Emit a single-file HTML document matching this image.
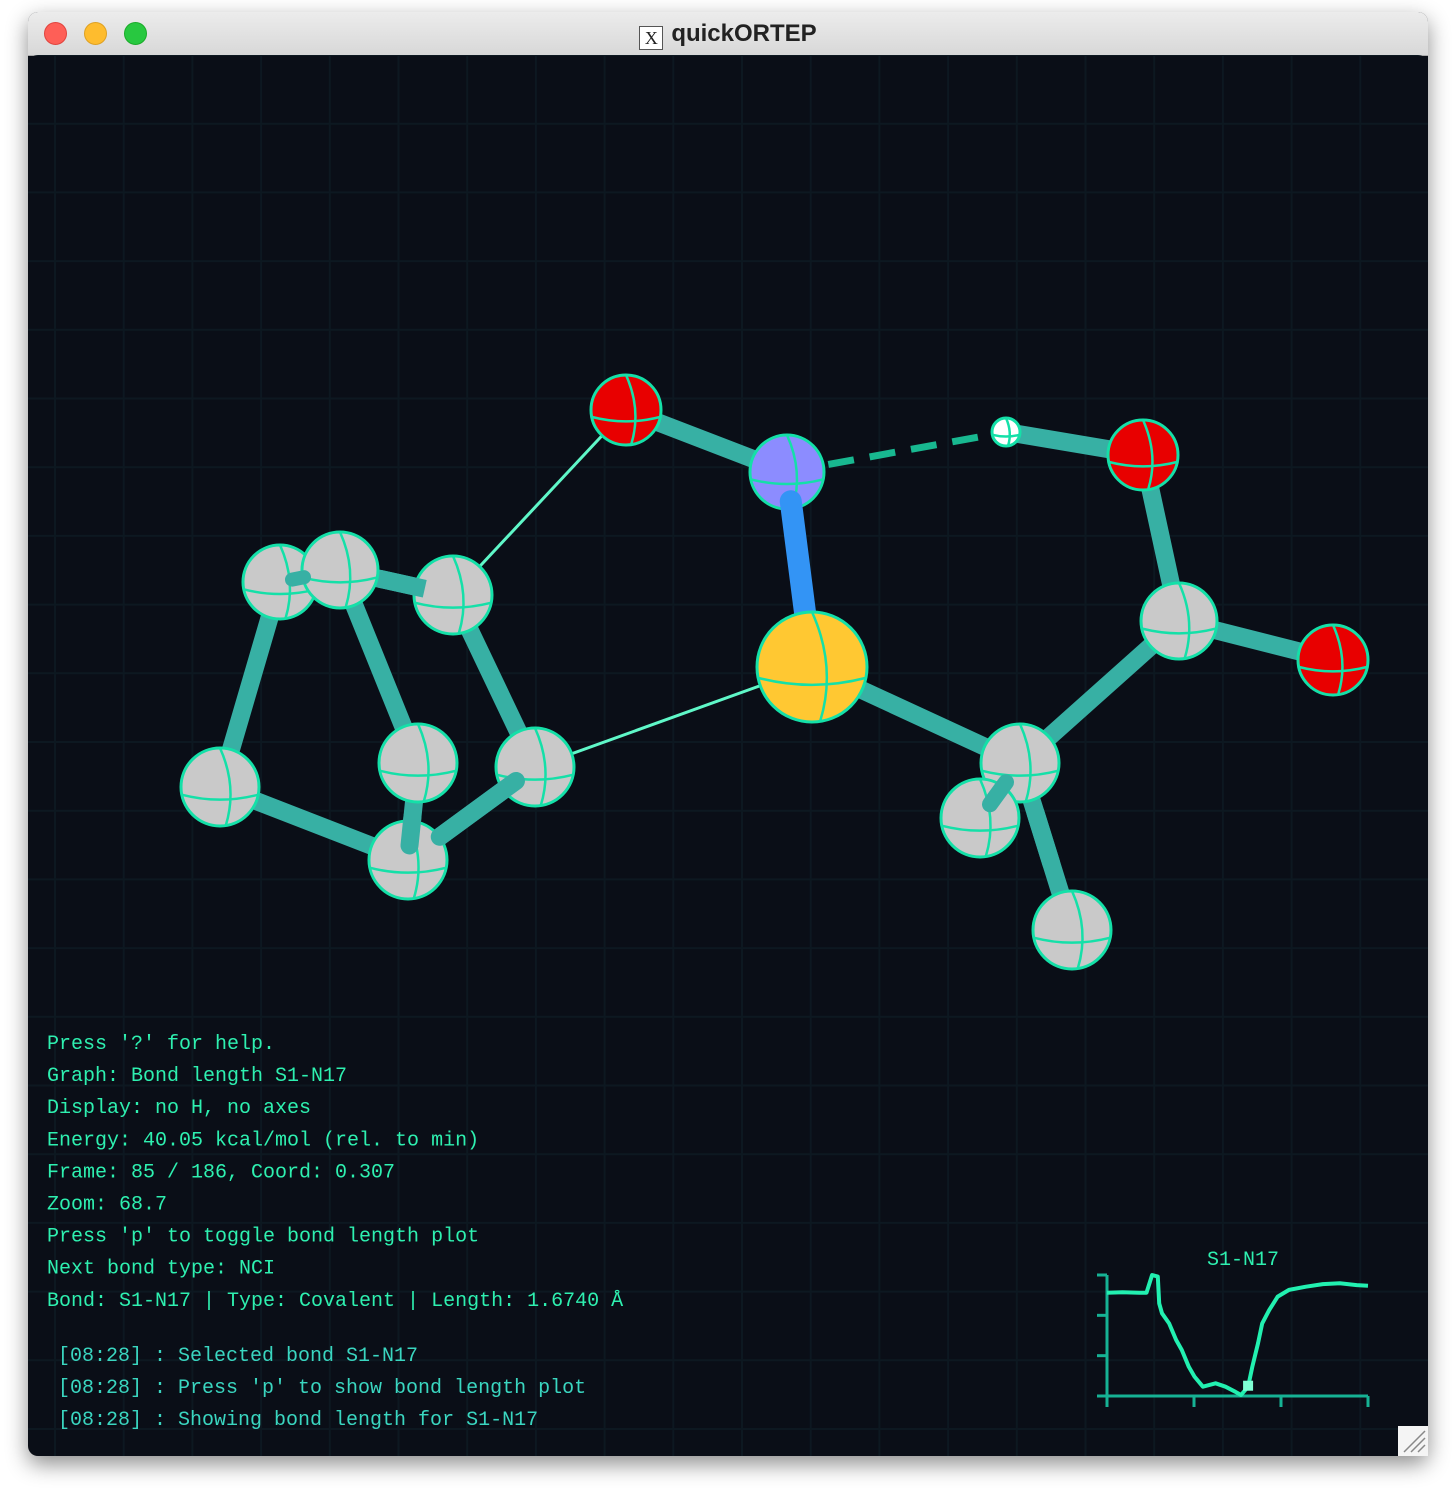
<!DOCTYPE html>
<html><head><meta charset="utf-8">
<style>
html,body{margin:0;padding:0;background:#fff;width:1456px;height:1500px;overflow:hidden;}
#win{position:absolute;left:28px;top:12px;width:1400px;height:1444px;border-radius:10px;overflow:hidden;box-shadow:0 8px 22px rgba(0,0,0,0.45);background:#0a0e17;}
#titlebar{position:absolute;left:0;top:0;width:1400px;height:43px;background:linear-gradient(#ececec,#d8d8d8);border-bottom:1px solid #aaa;}
.tl{position:absolute;top:10px;width:23px;height:23px;border-radius:50%;box-sizing:border-box;}
#title{position:absolute;left:0;width:1400px;top:8px;text-align:center;font:bold 24px "Liberation Sans",sans-serif;color:#222;}
#title span.x{display:inline-block;width:22px;height:22px;border:1px solid #555;background:#fff;font:18px "Liberation Serif",serif;line-height:22px;vertical-align:-3px;margin-right:8px;}
svg{position:absolute;left:0;top:0;}
.info{font-family:"Liberation Mono",monospace;font-size:20px;fill:#2ef0b0;}
.log{font-family:"Liberation Mono",monospace;font-size:20px;fill:#3ad6c0;}
</style></head><body>
<div id="win">
<div id="titlebar">
<div class="tl" style="left:16px;background:#fe5f57;border:1px solid #e0443e"></div>
<div class="tl" style="left:56px;background:#febc2e;border:1px solid #dea123"></div>
<div class="tl" style="left:96px;background:#28c840;border:1px solid #1aab29"></div>
<div id="title"><span class="x">X</span>quickORTEP</div>
</div>
</div>
<svg id="scene" width="1456" height="1500"></svg>
<script>
const NS='http://www.w3.org/2000/svg';
const svg=document.getElementById('scene');
function mk(tag,attrs,parent){const e=document.createElementNS(NS,tag);for(const k in attrs)e.setAttribute(k,attrs[k]);(parent||svg).appendChild(e);return e;}
const defs=mk('defs',{});
const cp=mk('clipPath',{id:'cc'},defs);mk('rect',{x:28,y:55,width:1400,height:1401,rx:10},cp);
const g=mk('g',{'clip-path':'url(#cc)'});
for(let x=55;x<1430;x+=68.7){const l=mk('line',{x1:x,y1:55,x2:x,y2:1456,stroke:'#0d1821','stroke-width':2},g);}
for(let y=55;y<1460;y+=68.7){const l=mk('line',{x1:28,y1:y,x2:1428,y2:y,stroke:'#0d1821','stroke-width':2},g);}

const atoms={
 O1:[626,410,35,'#e80000'],N17:[787,472,37,'#8c8cff'],H:[1006,432,14,'#ffffff'],O2:[1143,455,35,'#e80000'],
 C1:[1179,621,38,'#c9c9c9'],O3:[1333,660,35,'#e80000'],
 C2:[1020,763,39,'#c9c9c9'],C3:[980,818,39,'#c9c9c9'],C4:[1072,930,39,'#c9c9c9'],
 R1:[280,582,37,'#c9c9c9'],R2:[340,570,38,'#c9c9c9'],R3:[453,595,39,'#c9c9c9'],R4:[220,787,39,'#c9c9c9'],
 R5:[418,763,39,'#c9c9c9'],R6:[535,767,39,'#c9c9c9'],R7:[408,860,39,'#c9c9c9'],S1:[812,667,55,'#ffc832']};
const bonds=[['O1','N17'],['O2','H'],['O2','C1'],['C1','O3'],['C1','C2'],['S1','C2'],['C2','C3'],['C2','C4'],
 ['R2','R3'],['R1','R4'],['R2','R5'],['R3','R6'],['R6','R7'],['R5','R7'],['R4','R7'],['R1','R2']];
function bond(a,b,col,w,extra,t0,t1){const A=atoms[a],B=atoms[b];t0=t0||0;t1=(t1===undefined)?1:t1;
 const l=mk('line',Object.assign({x1:A[0]+(B[0]-A[0])*t0,y1:A[1]+(B[1]-A[1])*t0,x2:A[0]+(B[0]-A[0])*t1,y2:A[1]+(B[1]-A[1])*t1,stroke:col,'stroke-width':w,'stroke-linecap':'round'},extra||{}),g);
 }
function atom(k){const [x,y,r,c]=atoms[k];const ag=mk('g',{},g);
 mk('circle',{cx:x,cy:y,r:r,fill:c,stroke:'#14e0a8','stroke-width':3},ag);
 mk('path',{d:`M${x-r*0.97} ${y+r*0.2} Q${x} ${y+r*0.45} ${x+r*0.97} ${y+r*0.2}`,fill:'none',stroke:'#14e0a8','stroke-width':2.5},ag);
 mk('path',{d:`M${x} ${y-r} Q${x+r*0.45} ${y} ${x+r*0.15} ${y+r*0.98}`,fill:'none',stroke:'#14e0a8','stroke-width':2.5},ag);}
bonds.forEach(b=>bond(b[0],b[1],'#37b0a4',18));
bond('O1','R3','#5ff7c8',3,{'stroke-linecap':'butt'});
bond('S1','R6','#5ff7c8',3,{'stroke-linecap':'butt'});
bond('N17','H','#18b890',7,{'stroke-dasharray':'26 16','stroke-linecap':'butt'});
for(const k in atoms){if(k!=='S1')atom(k);}
bond('R2','R3','#37b0a4',18,{'stroke-linecap':'butt'},0.35,0.75);
bond('R1','R2','#37b0a4',14,{},0.2,0.4);
bond('R5','R7','#37b0a4',18,{},0.55,0.85);
bond('R6','R7','#37b0a4',18,{},0.15,0.75);
bond('C2','C3','#37b0a4',16,{},0.35,0.75);
bond('C2','C4','#37b0a4',18,{},0.3,0.6);
bond('N17','S1','#3394f5',22,{'stroke-linecap':'round'},0.15,0.8);
atom('S1');
const lines=["Press '?' for help.","Graph: Bond length S1-N17","Display: no H, no axes","Energy: 40.05 kcal/mol (rel. to min)","Frame: 85 / 186, Coord: 0.307","Zoom: 68.7","Press 'p' to toggle bond length plot","Next bond type: NCI","Bond: S1-N17 | Type: Covalent | Length: 1.6740 Å"];
lines.forEach((s,i)=>{const t=mk('text',{x:47,y:1049+i*32.1,class:'info'},g);t.textContent=s;});
const logs=["[08:28] : Selected bond S1-N17","[08:28] : Press 'p' to show bond length plot","[08:28] : Showing bond length for S1-N17"];
logs.forEach((s,i)=>{const t=mk('text',{x:58,y:1361+i*32,class:'log'},g);t.textContent=s;});
</script>
<script>
const frames=[0,11,23,28,32,36,37,39,44,49,53,58,62,68,77,84,91,95,100,103,107,110,115,121,129,141,153,165,177,185];
const lengths=[2.112,2.114,2.112,2.112,2.200,2.192,2.059,2.010,1.960,1.878,1.828,1.745,1.696,1.646,1.663,1.646,1.621,1.605,1.646,1.745,1.861,1.960,2.026,2.093,2.126,2.142,2.155,2.159,2.150,2.147];
const markerFrame=[100];
const frameMax=185, yMin=1.60, yMax=2.20;
const px0=1107,px1=1368,py0=1396,py1=1275;
const sx=f=>px0+(f/frameMax)*(px1-px0);
const sy=v=>py0-(v-yMin)/(yMax-yMin)*(py0-py1);
const pg=mk('g',{});


const tt=mk('text',{x:1243,y:1265,'text-anchor':'middle',class:'info'},pg);tt.textContent='S1-N17';


const axc='#16b294';
mk('line',{x1:px0,y1:py1,x2:px0,y2:py0+10,stroke:axc,'stroke-width':3},pg);
mk('line',{x1:px0,y1:py0,x2:px1,y2:py0,stroke:axc,'stroke-width':3},pg);
[0,1,2,3].forEach(i=>{const y=py0-i*(py0-py1)/3;mk('line',{x1:px0-10,y1:y,x2:px0,y2:y,stroke:axc,'stroke-width':3},pg);
 const x=px0+i*(px1-px0)/3;mk('line',{x1:x,y1:py0,x2:x,y2:py0+11,stroke:axc,'stroke-width':3},pg);});
const pts=frames.map((f,i)=>sx(f).toFixed(1)+','+sy(lengths[i]).toFixed(1)).join(' ');
const pl=mk('polyline',{points:pts,fill:'none',stroke:'#22f0b0','stroke-width':4,'stroke-linejoin':'round'},pg);


markerFrame.forEach(f=>{let i=frames.indexOf(f);const v=i>=0?lengths[i]:yMin;const m=mk('rect',{x:sx(f)-5,y:sy(v)-6,width:10,height:10,fill:'#7fffd4'},pg);

});
const gr=mk('g',{});


mk('rect',{x:1398,y:1426,width:30,height:30,fill:'#f4f4f4'},gr);
[0,7,14].forEach(d=>mk('line',{x1:1404+d,y1:1452,x2:1425,y2:1431+d,stroke:'#888','stroke-width':1.5},gr));
</script>
</body></html>
